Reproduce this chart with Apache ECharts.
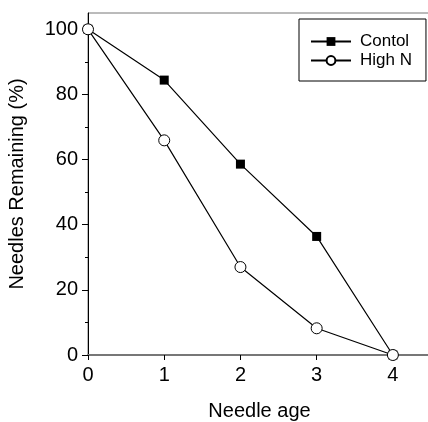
<!DOCTYPE html>
<html><head><meta charset="utf-8">
<script src="https://cdn.jsdelivr.net/npm/echarts@6/dist/echarts.min.js"></script>
<style>html,body{margin:0;padding:0;background:#fff}#c{width:428px;height:422px}</style>
</head><body><div id="c"></div>
<script>
var ages = [0, 1, 2, 3, 4];
var control = [100, 84.4, 58.6, 36.4, 0];
var highN = [100, 65.9, 27.0, 8.2, 0];
var yMajor = [0, 20, 40, 60, 80, 100];
var yMinor = [10, 30, 50, 70, 90];
var seriesNames = ['Contol', 'High N'];

var F = 'Liberation Sans, Arial, sans-serif';
var chart = echarts.init(document.getElementById('c'), null, {renderer: 'canvas'});
function pairs(vals){ return ages.map(function(a,i){ return [a, vals[i]]; }); }
chart.setOption({
  animation: false,
  backgroundColor: '#fff',
  grid: {left: 88, top: 13, width: 343, bottom: 67, show: true, borderColor: '#777', borderWidth: 1,
         backgroundColor: 'transparent', containLabel: false, outerBoundsMode: 'none'},
  legend: {
    orient: 'vertical', left: 299, top: 19,
    padding: [14, 14, 12, 11],
    borderColor: '#000', borderWidth: 1, borderRadius: 0,
    itemWidth: 40, itemHeight: 11, itemGap: 2,
    textStyle: {fontFamily: F, fontSize: 17, color: '#000', padding: [0,0,0,4]},
    data: seriesNames
  },
  xAxis: {
    type: 'value', min: 0, max: 4.5, interval: 1,
    name: 'Needle age', nameLocation: 'middle', nameGap: 46,
    nameTextStyle: {fontFamily: F, fontSize: 20, color: '#000'},
    axisLine: {show: true, lineStyle: {color: '#777', width: 2}},
    axisTick: {show: true, inside: false, length: 5, lineStyle: {color: '#000'}, customValues: ages},
    axisLabel: {fontFamily: F, fontSize: 20, color: '#000', margin: 10, customValues: ages},
    splitLine: {show: false}
  },
  yAxis: [{
    type: 'value', min: 0, max: 105, interval: 20,
    name: 'Needles Remaining (%)', nameLocation: 'middle', nameGap: 61,
    nameTextStyle: {fontFamily: F, fontSize: 20, color: '#000'},
    axisLine: {show: true, onZero: false, lineStyle: {color: '#000', width: 1}},
    axisTick: {show: true, inside: false, length: 6, lineStyle: {color: '#000'}, customValues: yMajor},
    axisLabel: {fontFamily: F, fontSize: 20, color: '#000', margin: 10, customValues: yMajor},
    splitLine: {show: false}
  }, {
    type: 'value', min: 0, max: 105, position: 'left',
    axisLine: {show: false},
    axisTick: {show: true, inside: false, length: 3, lineStyle: {color: '#000'}, customValues: yMinor},
    axisLabel: {show: false},
    splitLine: {show: false}
  }],
  series: [{
    name: seriesNames[0], type: 'line', data: pairs(control),
    symbol: 'rect', symbolSize: 9,
    lineStyle: {color: '#000', width: 1.2},
    itemStyle: {color: '#000', borderColor: '#000', borderWidth: 0},
    z: 2
  }, {
    name: seriesNames[1], type: 'line', data: pairs(highN),
    symbol: 'circle', symbolSize: 11, showAllSymbol: true,
    lineStyle: {color: '#000', width: 1.2},
    itemStyle: {color: '#fff', borderColor: '#000', borderWidth: 1},
    z: 3
  }]
});
</script></body></html>
